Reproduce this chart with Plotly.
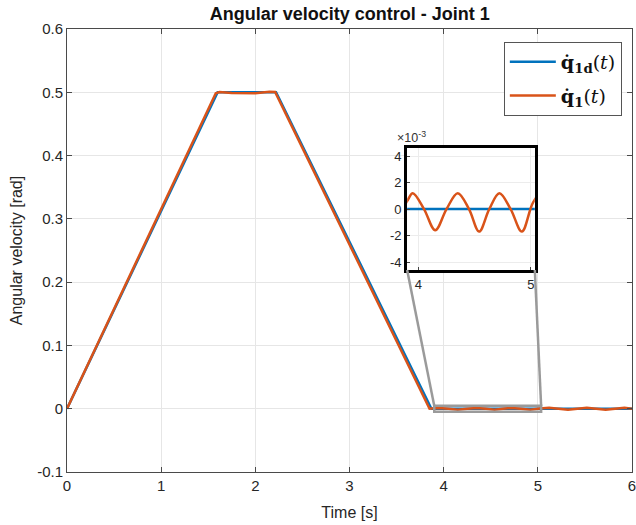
import plotly.graph_objects as go

# ---- data ----
t_ref = [0.0, 1.6, 2.22, 3.87, 6.0]
q_ref = [0.0, 0.5, 0.5, 0.0, 0.0]

t_act = [0.0, 1.58, 1.62, 1.75, 2.0, 2.15, 2.21, 3.85, 3.9, 3.95, 4.05, 4.15, 4.25, 4.35,
         4.45, 4.54, 4.63, 4.72, 4.82, 4.92, 5.02, 5.12, 5.22, 5.32, 5.42, 5.52, 5.62,
         5.72, 5.82, 5.92, 6.0]
q_act = [0.0, 0.4985, 0.5005, 0.4990, 0.4985, 0.5008, 0.5005, 0.0, 0.0006, 0.0012, 0.0,
         -0.0016, 0.0, 0.0012, 0.0, -0.0017, 0.0, 0.0012, 0.0, -0.0017, 0.0005, 0.0015,
         0.0, -0.0018, 0.0, 0.0016, 0.0, -0.0017, 0.0, 0.0014, 0.0]

x_ticks = [0, 1, 2, 3, 4, 5, 6]
y_ticks = [-0.1, 0, 0.1, 0.2, 0.3, 0.4, 0.5, 0.6]
y_tick_text = ["-0.1", "0", "0.1", "0.2", "0.3", "0.4", "0.5", "0.6"]
inset_y_ticks = [-4, -2, 0, 2, 4]
inset_y_text = ["-4", "-2", "0", "2", "4"]
inset_x_ticks = [4, 5]

BLUE = "#0072BD"
ORANGE = "#D95319"
GRAY = "#9a9a9a"
AXC = "#4a4a4a"

main_xr = [0, 6]
main_yr = [-0.1, 0.6]
inset_xr = [3.9, 5.035]
inset_yr = [-4.6, 4.6]
inset_dx = [0.602, 0.828]
inset_dy = [0.456, 0.731]

fig = go.Figure()
fig.add_trace(go.Scatter(x=t_ref, y=q_ref, mode="lines", line=dict(color=BLUE, width=2.5),
                         legendgroup="a",
                         name="<b>q̇</b><sub><b>1d</b></sub>(<i>t</i>)"))
fig.add_trace(go.Scatter(x=t_act, y=q_act, mode="lines", line=dict(color=ORANGE, width=2.5),
                         legendgroup="b",
                         name="<b>q̇</b><sub><b>1</b></sub>(<i>t</i>)"))

# inset traces (values in 1e-3)
fig.add_trace(go.Scatter(x=t_ref, y=[v * 1000 for v in q_ref], mode="lines",
                         line=dict(color=BLUE, width=2.5), xaxis="x2", yaxis="y2",
                         showlegend=False))
fig.add_trace(go.Scatter(x=t_act, y=[v * 1000 for v in q_act], mode="lines",
                         line=dict(color=ORANGE, width=2.5, shape="spline", smoothing=1.0),
                         xaxis="x2", yaxis="y2", showlegend=False))

def px2data(px, py):
    x = main_xr[0] + px * (main_xr[1] - main_xr[0])
    y = main_yr[0] + py * (main_yr[1] - main_yr[0])
    return x, y

bl = px2data(inset_dx[0], inset_dy[0])
br = px2data(inset_dx[1], inset_dy[0])
rect_top = inset_yr[1] / 1000
rect_bot = inset_yr[0] / 1000

shapes = [
    dict(type="rect", xref="x", yref="y", x0=inset_xr[0], x1=inset_xr[1], y0=rect_bot, y1=rect_top,
         line=dict(color=GRAY, width=2.5)),
    dict(type="line", xref="x", yref="y", x0=bl[0], y0=bl[1], x1=inset_xr[0], y1=rect_top,
         line=dict(color=GRAY, width=2.5)),
    dict(type="line", xref="x", yref="y", x0=br[0], y0=br[1], x1=inset_xr[1], y1=rect_top,
         line=dict(color=GRAY, width=2.5)),
    dict(type="rect", xref="paper", yref="paper", x0=inset_dx[0], x1=inset_dx[1],
         y0=inset_dy[0], y1=inset_dy[1], fillcolor="white", line=dict(width=0), layer="below"),
]

fig.update_layout(
    width=636, height=525,
    margin=dict(l=67, r=4, t=29, b=53),
    paper_bgcolor="white", plot_bgcolor="white",
    font=dict(family="Liberation Sans, Arial, sans-serif", size=15, color="#262626"),
    title=dict(text="<b>Angular velocity control - Joint 1</b>", x=0.55, xanchor="center",
               y=0.973, yanchor="middle", font=dict(size=18, color="#111")),
    showlegend=True,
    legend=dict(x=0.982, y=0.971, xanchor="right", yanchor="top", bgcolor="white",
                bordercolor="#555", borderwidth=1,
                font=dict(family="DejaVu Serif, serif", size=19, color="#111"),
                tracegroupgap=6, itemwidth=46),
    xaxis=dict(range=main_xr, tickvals=x_ticks, ticks="inside", ticklen=5, tickcolor=AXC,
               showline=True, linecolor=AXC, linewidth=1, mirror="ticks", automargin=False,
               showgrid=True, gridcolor="#e6e6e6", zeroline=False, ticklabeloverflow="allow",
               title=dict(text="Time [s]", standoff=13, font=dict(size=16)),
               tickfont=dict(size=15)),
    yaxis=dict(range=main_yr, tickvals=y_ticks, ticktext=y_tick_text, ticks="inside", ticklen=5,
               tickcolor=AXC, showline=True, linecolor=AXC, linewidth=1, mirror="ticks",
               showgrid=True, gridcolor="#e6e6e6", zeroline=False, automargin=False,
               title=dict(text="Angular velocity [rad]", standoff=10, font=dict(size=16)),
               tickfont=dict(size=15)),
    xaxis2=dict(domain=inset_dx, anchor="y2", range=inset_xr, tickvals=inset_x_ticks,
                ticks="inside", ticklen=3, showline=True, linecolor="black", linewidth=3,
                mirror=True, showgrid=True, gridcolor="#ececec", zeroline=False,
                tickfont=dict(size=13)),
    yaxis2=dict(domain=inset_dy, anchor="x2", range=inset_yr, tickvals=inset_y_ticks,
                ticktext=inset_y_text, ticks="inside", ticklen=3, showline=True,
                linecolor="black", linewidth=3, mirror=True, showgrid=True,
                gridcolor="#ececec", zeroline=False, tickfont=dict(size=13)),
    shapes=shapes,
    annotations=[dict(text="×10<sup>-3</sup>", xref="paper", yref="paper", x=inset_dx[0] - 0.022,
                      y=inset_dy[1] + 0.002, xanchor="left", yanchor="bottom", showarrow=False,
                      font=dict(size=12.5, color="#333"))],
)

fig.write_html("out.html", post_script="document.body.style.margin='0';",
               config={"displayModeBar": False})
